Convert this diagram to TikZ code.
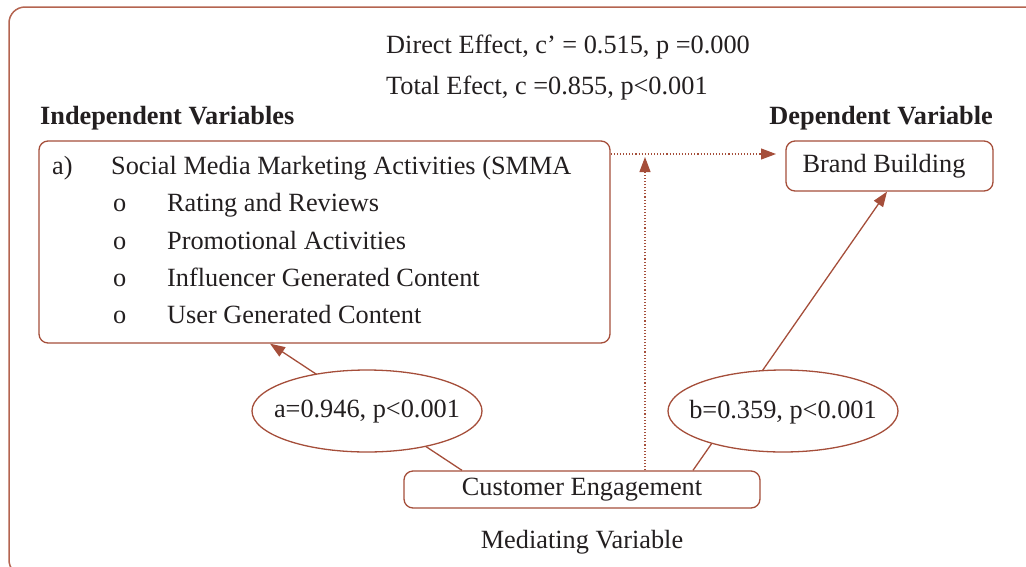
\documentclass[tikz,border=0pt]{standalone}
\usepackage{fontspec}
\setmainfont{Liberation Serif}
\usetikzlibrary{shapes.geometric,arrows.meta}
\definecolor{brn}{RGB}{165,78,58}
\definecolor{frm}{RGB}{180,100,80}
\definecolor{txt}{RGB}{35,31,32}
\begin{document}
\begin{tikzpicture}[x=1pt,y=-1pt, font=\fontsize{26.3}{30}\selectfont, text=txt,
 box/.style={draw=brn, line width=1.3pt, rounded corners=9pt, inner sep=0pt},
 lbl/.style={inner sep=0pt},
 oval/.style={ellipse, draw=brn, line width=1.3pt, fill=white, minimum width=230pt, minimum height=82pt, inner sep=0pt},
 link/.style={draw=brn, line width=1.3pt},
 tipped/.style={-{Triangle[length=15pt,width=11pt]}},
 dots/.style={draw=brn, dotted, line width=1.1pt}]
\useasboundingbox (0,0) rectangle (1026,566);
\clip (0,0) rectangle (1026,566);
\draw[draw=frm, line width=1.5pt, rounded corners=16pt] (9,7) rectangle (1042,576);

% headings
\node[lbl, anchor=base west] (de) at (386,53) {Direct Effect, c’ = 0.515, p =0.000};
\node[lbl, anchor=base west] (te) at (386,94) {Total Efect, c =0.855, p<0.001};
\node[lbl, anchor=base west, font=\fontsize{26.3}{30}\selectfont\bfseries] (iv) at (40,124) {Independent Variables};
\node[lbl, anchor=base east, font=\fontsize{26.3}{30}\selectfont\bfseries] (dvh) at (993,124) {Dependent Variable};

% boxes
\node[box, minimum width=571pt, minimum height=202pt] (IV) at (324.5,242) {};
\node[box, minimum width=207pt, minimum height=50pt] (BB) at (889.5,166) {};
\node[lbl] (bbt) at (884,166) {Brand Building};
\node[box, minimum width=356pt, minimum height=37pt] (ME) at (582,489.5) {};
\node[lbl] (met) at (582,490) {Customer Engagement};
\node[lbl] (mv) at (582,542) {Mediating Variable};

% IV box text
\node[lbl, anchor=base west] (ia) at (52,174) {a)};
\node[lbl, anchor=base west] (it) at (111,174) {Social Media Marketing Activities (SMMA};
\foreach \y/\t [count=\i] in {211/Rating and Reviews, 249/Promotional Activities, 286/Influencer Generated Content, 323/User Generated Content}{
  \node[lbl, anchor=base west] (o\i) at (113,\y) {o};
  \node[lbl, anchor=base west] (i\i) at (167,\y) {\t};
}

% connectors
\coordinate (aS) at (462,0);
\coordinate (aE) at (270,0);
\draw[link, tipped] (ME.north -| aS) -- (IV.south -| aE);
\coordinate (bS) at (693,0);
\coordinate (bE) at (887,0);
\draw[link, tipped] (ME.north -| bS) -- (BB.south -| bE);
\coordinate (dh) at (776,154);
\draw[dots, tipped] (IV.east |- dh) -- (dh);
\coordinate (dv) at (645,157);
\draw[dots, tipped] (ME.north -| dv) -- (dv);

% ovals
\node[oval] (ea) at (367,411) {};
\node[lbl] (eat) at (367,412) {a=0.946, p<0.001};
\node[oval] (eb) at (783,411) {};
\node[lbl] (ebt) at (783,412) {b=0.359, p<0.001};
\end{tikzpicture}
\end{document}
